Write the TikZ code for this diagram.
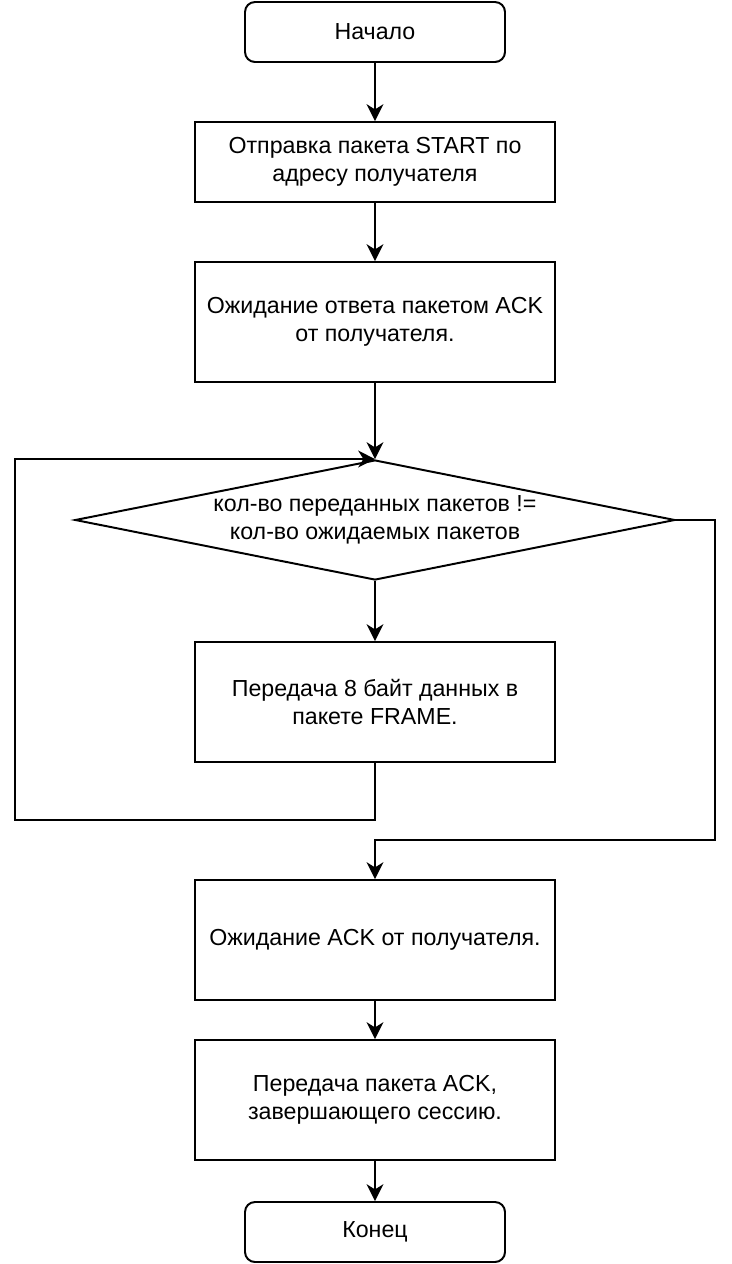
\documentclass[tikz,border=0pt]{standalone}
\usepackage{fontspec}
\setmainfont{Liberation Sans}
\usepackage{tikz}
\usetikzlibrary{shapes.geometric,arrows.meta}

\tikzset{
  terminal/.style={draw,line width=1.4pt,rounded corners=0.25cm,minimum width=6.5cm,minimum height=1.5cm,align=center},
  actbox/.style={draw,line width=1.4pt,minimum width=9cm,minimum height=3cm,align=center},
  cond/.style={draw,line width=1.4pt,diamond,aspect=5,minimum width=15cm,minimum height=3cm,inner sep=0pt,align=center},
  flow/.style={line width=1.4pt,-{Stealth[length=0.42cm,width=0.42cm,inset=0.13cm]}}
}

\begin{document}
\begin{tikzpicture}[font=\fontsize{16.5}{19.5}\selectfont]

  % Frame of the picture
  \useasboundingbox (0,0) rectangle (18.3,-31.6);

  % Nodes
  \node[terminal] (start) at (9.375,-0.8) {Начало};
  \node[actbox,minimum height=2cm] (sendstart) at (9.375,-4.05) {Отправка пакета START по\\адресу получателя};
  \node[actbox] (waitfirst) at (9.375,-8.05) {Ожидание ответа пакетом ACK\\от получателя.};
  \node[cond] (count) at (9.375,-13) {\raisebox{-0.12cm}{\begin{tabular}{@{}c@{}}кол-во переданных пакетов !=\\кол-во ожидаемых пакетов\end{tabular}}};
  \node[actbox] (frame) at (9.375,-17.55) {Передача 8 байт данных в\\пакете FRAME.};
  \node[actbox] (waitack) at (9.375,-23.5) {Ожидание ACK от получателя.};
  \node[actbox] (sendack) at (9.375,-27.5) {Передача пакета ACK,\\завершающего сессию.};
  \node[terminal] (finish) at (9.375,-30.8) {Конец};

  % Corners of the two bent connectors
  \coordinate (loopcorner) at (0.375,-20.5);
  \coordinate (exitcorner) at (17.875,-21);

  % Connectors
  \draw[flow] (start) -- (sendstart);
  \draw[flow] (sendstart) -- (waitfirst);
  \draw[flow] (waitfirst) -- (count.north);
  \draw[flow] (count) -- (frame);
  \draw[flow] (frame.south) |- (loopcorner) |- (count.north);
  \draw[flow] (count.east) -| (exitcorner) -| (waitack.north);
  \draw[flow] (waitack) -- (sendack);
  \draw[flow] (sendack) -- (finish);

\end{tikzpicture}
\end{document}
